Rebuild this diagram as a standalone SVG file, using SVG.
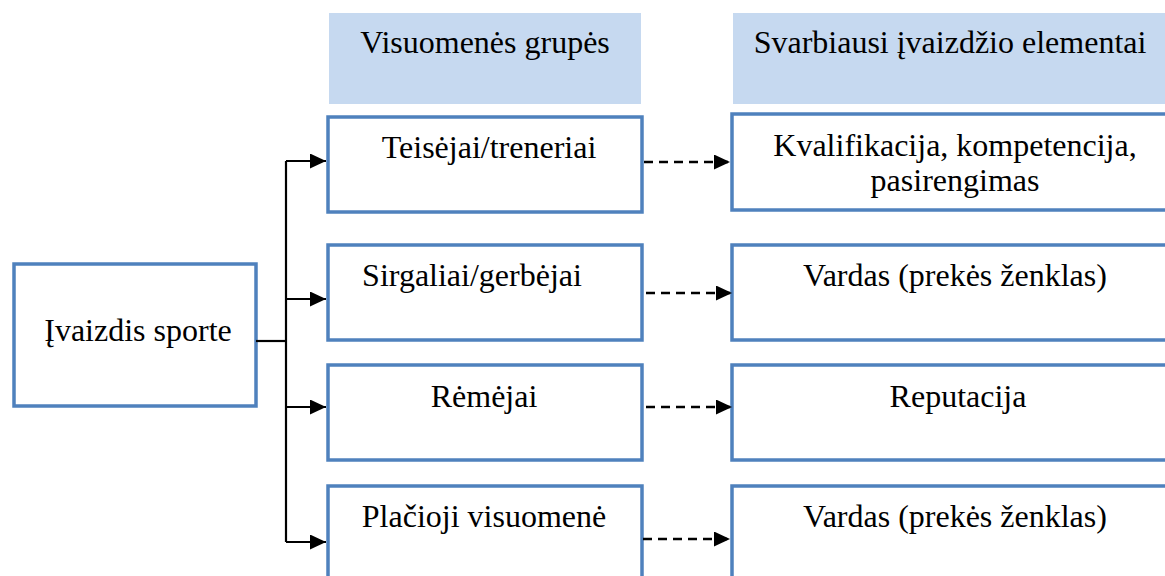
<svg xmlns="http://www.w3.org/2000/svg" width="1165" height="576" viewBox="0 0 1165 576">
  <style>
    .hdr { fill: #c6d9f0; stroke: none; }
    .box { fill: #ffffff; stroke: #4f81bd; stroke-width: 3.5; }
    .lbl { font-family: "Liberation Serif", "Times New Roman", serif; font-size: 32px; fill: #000000; text-anchor: middle; }
    .solid { fill: none; stroke: #000000; stroke-width: 2.2; }
    .dash { fill: none; stroke: #000000; stroke-width: 2.5; stroke-dasharray: 9 6; }
  </style>
  <defs>
    <marker id="tip" viewBox="0 0 16 15" refX="16" refY="7.5" markerWidth="16" markerHeight="15" markerUnits="userSpaceOnUse" orient="auto">
      <path d="M0,0 L16,7.5 L0,15 Z" fill="#000000"/>
    </marker>
  </defs>

  <rect width="1165" height="576" fill="#ffffff"/>

  <!-- column headers -->
  <g id="header-groups">
    <rect class="hdr" x="329" y="13" width="312" height="91"/>
    <text class="lbl" x="485" y="53">Visuomenės grupės</text>
  </g>
  <g id="header-elements">
    <rect class="hdr" x="733" y="13" width="440" height="91"/>
    <text class="lbl" x="950" y="53">Svarbiausi įvaizdžio elementai</text>
  </g>

  <!-- root -->
  <g id="root">
    <rect class="box" x="14" y="264" width="242" height="142"/>
    <text class="lbl" x="138" y="341">Įvaizdis sporte</text>
  </g>

  <!-- groups -->
  <g id="g1">
    <rect class="box" x="328" y="117" width="314" height="95"/>
    <text class="lbl" x="489" y="158">Teisėjai/treneriai</text>
  </g>
  <g id="g2">
    <rect class="box" x="328" y="245" width="314" height="95"/>
    <text class="lbl" x="472" y="286">Sirgaliai/gerbėjai</text>
  </g>
  <g id="g3">
    <rect class="box" x="328" y="365" width="314" height="95"/>
    <text class="lbl" x="484" y="407">Rėmėjai</text>
  </g>
  <g id="g4">
    <rect class="box" x="328" y="486" width="314" height="120"/>
    <text class="lbl" x="484" y="527">Plačioji visuomenė</text>
  </g>

  <!-- image elements -->
  <g id="e1">
    <rect class="box" x="732" y="114" width="450" height="96"/>
    <text class="lbl" x="955" y="156">Kvalifikacija, kompetencija,</text>
    <text class="lbl" x="955" y="191">pasirengimas</text>
  </g>
  <g id="e2">
    <rect class="box" x="732" y="245" width="450" height="95"/>
    <text class="lbl" x="955" y="286">Vardas (prekės ženklas)</text>
  </g>
  <g id="e3">
    <rect class="box" x="732" y="365" width="450" height="95"/>
    <text class="lbl" x="958" y="407">Reputacija</text>
  </g>
  <g id="e4">
    <rect class="box" x="732" y="486" width="450" height="120"/>
    <text class="lbl" x="955" y="527">Vardas (prekės ženklas)</text>
  </g>

  <!-- connectors -->
  <g id="connectors">
    <path class="solid" d="M256,341 H286"/>
    <path class="solid" d="M286,161 V542"/>
    <path class="solid" d="M286,161 H326" marker-end="url(#tip)"/>
    <path class="solid" d="M286,299 H326" marker-end="url(#tip)"/>
    <path class="solid" d="M286,407 H326" marker-end="url(#tip)"/>
    <path class="solid" d="M286,542 H326" marker-end="url(#tip)"/>

    <path class="dash" d="M644,162 H730" marker-end="url(#tip)"/>
    <path class="dash" d="M646,293 H732" marker-end="url(#tip)"/>
    <path class="dash" d="M646,407 H732" marker-end="url(#tip)"/>
    <path class="dash" d="M643,539 H730" marker-end="url(#tip)"/>
  </g>
</svg>
